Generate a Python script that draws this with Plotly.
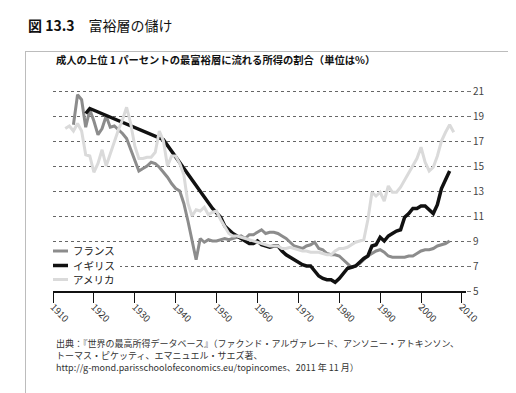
import plotly.graph_objects as go

# ---------------- data ----------------
fr_years = list(range(1915, 2008))
fr_vals = [18.3, 20.7, 20.3, 18.1, 19.5, 18.6, 17.5, 18.0, 19.0, 18.1,
           18.2, 17.9, 17.6, 17.2, 16.3, 15.4, 14.6, 14.8, 15.0, 15.3,
           15.2, 14.9, 14.5, 14.1, 13.6, 13.2, 13.0, 12.0, 10.6, 9.0,
           7.5, 9.2, 8.9, 9.1, 9.0, 9.0, 9.1, 9.2, 9.1, 9.2,
           9.3, 9.4, 9.2, 9.5, 9.5, 9.7, 9.9, 9.6, 9.7, 9.7,
           9.6, 9.4, 9.2, 8.9, 8.6, 8.5, 8.4, 8.6, 8.7, 8.9,
           8.4, 8.3, 8.0, 7.9, 7.9, 7.8, 7.5, 7.2, 6.9, 7.0,
           7.2, 7.5, 7.8, 8.0, 8.2, 8.3, 8.1, 7.8, 7.7, 7.7,
           7.7, 7.7, 7.8, 7.8, 8.0, 8.2, 8.3, 8.3, 8.4, 8.6,
           8.7, 8.8, 9.0]

uk_years = [1918, 1919, 1937, 1949] + list(range(1951, 2008))
uk_vals = [19.2, 19.6, 17.1, 11.6,
           10.9, 10.2, 9.9, 9.6, 9.4, 9.2, 9.0, 8.8, 8.8, 9.0,
           8.7, 8.6, 8.5, 8.6, 8.6, 8.2, 7.9, 7.7, 7.5, 7.3,
           7.1, 7.0, 7.0, 6.6, 6.2, 6.0, 5.9, 5.9, 5.7, 6.0,
           6.4, 6.8, 6.9, 7.0, 7.3, 7.6, 7.8, 8.6, 8.7, 9.3,
           9.0, 9.4, 9.6, 9.8, 9.9, 10.9, 11.2, 11.6, 11.6, 11.8,
           11.8, 11.5, 11.2, 11.9, 13.2, 13.9, 14.6]

us_years = list(range(1913, 2009))
us_vals = [18.0, 18.2, 17.8, 18.4, 17.8, 15.9, 15.8, 14.5, 15.2, 16.3,
           15.0, 16.0, 16.9, 17.9, 18.7, 19.7, 18.4, 16.6, 15.6, 15.6,
           15.7, 15.7, 16.1, 17.8, 17.0, 15.0, 15.8, 15.8, 15.2, 14.3,
           12.0, 11.0, 11.5, 11.4, 11.7, 11.1, 11.3, 11.4, 10.7, 10.1,
           9.6, 9.4, 9.4, 9.3, 9.2, 9.1, 9.0, 8.9, 8.8, 8.7,
           8.6, 8.6, 8.6, 8.4, 8.4, 8.5, 8.4, 8.3, 8.2, 8.2,
           8.1, 8.1, 8.1, 8.0, 7.9, 7.9, 8.2, 8.4, 8.4, 8.5,
           8.7, 8.9, 9.0, 9.1, 10.7, 12.9, 12.6, 12.9, 12.2, 13.4,
           12.9, 12.9, 13.3, 13.9, 14.5, 15.0, 15.6, 16.5, 15.3, 14.6,
           14.9, 15.8, 17.0, 17.7, 18.3, 17.7]

series_names = ["フランス", "イギリス", "アメリカ"]
series_colors = ["#8c8c8c", "#111111", "#dadada"]
series_widths = [3, 3.5, 3]

x_ticks = list(range(1910, 2011, 10))
y_ticks = list(range(5, 22, 2))

fig_title = "<b>図</b> <b>13.3</b>　富裕層の儲け"
chart_title = "<b>成人の上位 1 パーセントの最富裕層に流れる所得の割合（単位は%）</b>"
source_lines = [
    "出典：『世界の最高所得データベース』（ファクンド・アルヴァレード、アンソニー・アトキンソン、",
    "トーマス・ピケッティ、エマニュエル・サエズ著、",
    "http://g-mond.parisschoolofeconomics.eu/topincomes、2011 年 11 月）",
]

# ---------------- layout geometry ----------------
W, H = 516, 393
# paper area == outer frame of the figure box
FL, FR, FT, FB = 18, 504, 44, 388
FW, FH = FR - FL, FB - FT
# plot area (pixels)
PL, PR, PT, PB = 45, 458, 78, 283


def px(xp):
    return (xp - FL) / FW


def py(yp):
    return (FB - yp) / FH


FONT = "Noto Sans CJK JP, Noto Sans, DejaVu Sans"

fig = go.Figure()
for name, xs, ys, col, w in zip(series_names,
                                [fr_years, uk_years, us_years],
                                [fr_vals, uk_vals, us_vals],
                                series_colors, series_widths):
    fig.add_trace(go.Scatter(x=xs, y=ys, mode="lines", name=name,
                             line=dict(color=col, width=w),
                             showlegend=False, hoverinfo="skip"))
# empty trace on the frame axes so that they are drawn
fig.add_trace(go.Scatter(x=[], y=[], xaxis="x2", yaxis="y2",
                         showlegend=False, hoverinfo="skip"))

shapes = [
    # legend background
    dict(type="rect", xref="paper", yref="paper",
         x0=px(44), x1=px(112), y0=py(279), y1=py(237),
         fillcolor="white", line=dict(width=0), layer="above"),
]
leg_y = [243, 257.5, 271.5]
for c, w, yy in zip(series_colors, series_widths, leg_y):
    shapes.append(dict(type="line", xref="paper", yref="paper",
                       x0=px(45), x1=px(60), y0=py(yy), y1=py(yy),
                       line=dict(color=c, width=w), layer="above"))

annotations = [
    dict(text=fig_title, xref="paper", yref="paper", x=px(18), y=py(17),
         xanchor="left", yanchor="middle", showarrow=False,
         font=dict(family=FONT, size=14, color="#111")),
    dict(text=chart_title, xref="paper", yref="paper", x=px(46), y=py(51),
         xanchor="left", yanchor="middle", showarrow=False,
         font=dict(family=FONT, size=10.3, color="#111")),
]
for name, yy in zip(series_names, leg_y):
    annotations.append(dict(text=name, xref="paper", yref="paper",
                            x=px(63), y=py(yy), xanchor="left",
                            yanchor="middle", showarrow=False,
                            font=dict(family=FONT, size=10.5, color="#222")))
for line, yy in zip(source_lines, [335, 347, 359]):
    annotations.append(dict(text=line, xref="paper", yref="paper",
                            x=px(46), y=py(yy), xanchor="left",
                            yanchor="middle", showarrow=False,
                            font=dict(family=FONT, size=9, color="#333")))

FRAME = "#bcbcbc"
fig.update_layout(
    template="none",
    width=W, height=H, autosize=False,
    margin=dict(l=FL, r=W - FR, t=FT, b=H - FB, pad=0),
    paper_bgcolor="white", plot_bgcolor="rgba(0,0,0,0)",
    showlegend=False,
    shapes=shapes,
    annotations=annotations,
    xaxis=dict(domain=[px(PL), px(PR)], anchor="y",
               range=[1910, 2011], tickvals=x_ticks,
               ticktext=[str(v) for v in x_ticks], tickangle=45,
               showline=True, linecolor="#111", linewidth=1.5,
               ticks="outside", ticklen=10, tickcolor="#111", tickwidth=1,
               ticklabelstandoff=-5,
               showgrid=False, zeroline=False,
               tickfont=dict(family=FONT, size=9.5, color="#333")),
    yaxis=dict(domain=[py(PB), py(PT)], anchor="x",
               range=[5, 21.4], tickvals=y_ticks, side="right",
               showline=False, zeroline=False,
               showgrid=True, gridcolor="#666", gridwidth=1,
               griddash="3px,3px",
               ticks="outside", ticklen=4, tickcolor="#777",
               tickfont=dict(family=FONT, size=10, color="#444")),
    xaxis2=dict(domain=[0, 1], anchor="y2", range=[0, 1],
                showline=True, mirror=True, linecolor=FRAME, linewidth=1.3,
                showticklabels=False, ticks="", showgrid=False,
                zeroline=False, fixedrange=True),
    yaxis2=dict(domain=[0, 1], anchor="x2", range=[0, 1],
                showline=True, mirror=True, linecolor=FRAME, linewidth=1.3,
                showticklabels=False, ticks="", showgrid=False,
                zeroline=False, fixedrange=True),
)

fig.write_html("out.html")
